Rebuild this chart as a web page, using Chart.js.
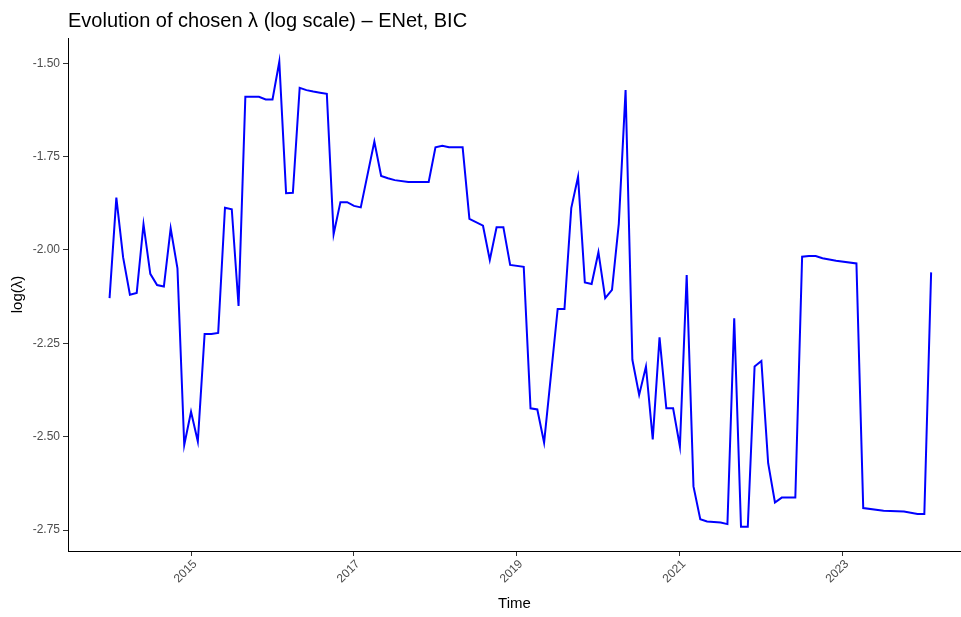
<!DOCTYPE html>
<html>
<head>
<meta charset="utf-8">
<title>Evolution of chosen λ – ENet, BIC</title>
<script src="https://cdn.jsdelivr.net/npm/chart.js@4.4.1/dist/chart.umd.min.js"></script>
<style>
  html, body { margin: 0; padding: 0; background: #ffffff; }
  #wrap { width: 961px; height: 617px; }
</style>
</head>
<body>
<div id="wrap"><canvas id="lambdaChart" width="961" height="617"></canvas></div>
<script>
// Chosen penalty per estimation month (log scale), turning points of the series
const months = [
  "2014-01","2014-02","2014-03","2014-04","2014-05","2014-06","2014-07","2014-08","2014-09","2014-10",
  "2014-11","2014-12","2015-01","2015-02","2015-03","2015-04","2015-05","2015-06","2015-07","2015-08",
  "2015-09","2015-10","2015-11","2015-12","2016-01","2016-02","2016-03","2016-04","2016-05","2016-06",
  "2016-07","2016-08","2016-09","2016-10","2016-11","2016-12","2017-01","2017-02","2017-04","2017-05",
  "2017-06","2017-07","2017-09","2017-12","2018-01","2018-02","2018-03","2018-05","2018-06","2018-08",
  "2018-09","2018-10","2018-11","2018-12","2019-02","2019-03","2019-04","2019-05","2019-07","2019-08",
  "2019-09","2019-10","2019-11","2019-12","2020-01","2020-02","2020-03","2020-04","2020-05","2020-06",
  "2020-07","2020-08","2020-09","2020-10","2020-11","2020-12","2021-01","2021-02","2021-03","2021-04",
  "2021-05","2021-07","2021-08","2021-09","2021-10","2021-11","2021-12","2022-01","2022-02","2022-03",
  "2022-04","2022-06","2022-07","2022-08","2022-09","2022-10","2022-12","2023-03","2023-04","2023-07",
  "2023-10","2023-12","2024-01","2024-02"
];
const logLambda = [
  -2.129,-1.860,-2.020,-2.120,-2.115,-1.931,-2.064,-2.094,-2.098,-1.942,
  -2.049,-2.522,-2.433,-2.513,-2.225,-2.225,-2.222,-1.887,-1.891,-2.150,
  -1.590,-1.590,-1.590,-1.597,-1.597,-1.496,-1.848,-1.847,-1.566,-1.572,
  -1.576,-1.579,-1.582,-1.958,-1.872,-1.872,-1.882,-1.886,-1.710,-1.802,
  -1.808,-1.813,-1.818,-1.818,-1.725,-1.721,-1.725,-1.725,-1.917,-1.935,
  -2.027,-1.939,-1.939,-2.040,-2.045,-2.424,-2.427,-2.516,-2.158,-2.158,
  -1.888,-1.804,-2.087,-2.091,-2.006,-2.129,-2.107,-1.930,-1.572,-2.294,
  -2.388,-2.312,-2.507,-2.234,-2.424,-2.424,-2.526,-2.067,-2.633,-2.721,
  -2.727,-2.730,-2.734,-2.183,-2.741,-2.741,-2.312,-2.297,-2.571,-2.676,
  -2.663,-2.663,-2.018,-2.016,-2.016,-2.022,-2.029,-2.036,-2.691,-2.698,
  -2.700,-2.707,-2.707,-2.060
];
const yearTicks = [2015, 2017, 2019, 2021, 2023];
const yTicks = [-2.75, -2.50, -2.25, -2.00, -1.75, -1.50];

const chartTitle = "Evolution of chosen λ (log scale) – ENet, BIC";
const xTitle = "Time";
const yTitle = "log(λ)";

// month string -> decimal year for the linear time axis
function toYear(s) {
  const [y, m] = s.split("-").map(Number);
  return y + (m - 1) / 12;
}
const points = months.map((m, i) => ({ x: toYear(m), y: logLambda[i] }));

const FONT = "'Liberation Sans', Arial, 'DejaVu Sans', sans-serif";
const TICK_COLOR = "#4d4d4d";

const titlePlugin = {
  id: "plotTitle",
  afterDraw(chart) {
    const ctx = chart.ctx;
    ctx.save();
    ctx.font = "20px " + FONT;
    ctx.fillStyle = "#000000";
    ctx.textAlign = "left";
    ctx.textBaseline = "alphabetic";
    ctx.fillText(chartTitle, chart.chartArea.left, 27);
    ctx.restore();
  }
};

new Chart(document.getElementById("lambdaChart"), {
  type: "line",
  data: {
    datasets: [{
      data: points,
      borderColor: "#0000ff",
      borderWidth: 2,
      pointRadius: 0,
      tension: 0,
      fill: false
    }]
  },
  options: {
    responsive: false,
    animation: false,
    layout: { padding: { top: 38, left: 0, right: 0, bottom: 0 } },
    plugins: {
      legend: { display: false },
      tooltip: { enabled: false },
      title: { display: false }
    },
    scales: {
      x: {
        type: "linear",
        min: 2013.49,
        max: 2024.45,
        afterBuildTicks(scale) { scale.ticks = yearTicks.map(v => ({ value: v })); },
        afterFit(scale) { scale.height = 66; },
        border: { display: true, color: "#000000", width: 1 },
        grid: { display: true, drawOnChartArea: false, drawTicks: true, tickLength: 5, color: "#333333" },
        ticks: {
          minRotation: 45,
          maxRotation: 45,
          padding: 1,
          labelOffset: 4,
          color: TICK_COLOR,
          font: { family: FONT, size: 12 },
          callback: v => String(v)
        },
        title: {
          display: true,
          text: xTitle,
          color: "#000000",
          font: { family: FONT, size: 15 },
          padding: { top: 0, bottom: 4 }
        }
      },
      y: {
        type: "linear",
        min: -2.806,
        max: -1.4325,
        afterBuildTicks(scale) { scale.ticks = yTicks.map(v => ({ value: v })); },
        afterFit(scale) { scale.width = 68; },
        border: { display: true, color: "#000000", width: 1 },
        grid: { display: true, drawOnChartArea: false, drawTicks: true, tickLength: 5, color: "#333333" },
        ticks: {
          padding: 3,
          color: TICK_COLOR,
          font: { family: FONT, size: 12 },
          callback: v => Number(v).toFixed(2)
        },
        title: {
          display: true,
          text: yTitle,
          color: "#000000",
          font: { family: FONT, size: 15 },
          padding: { top: 9, bottom: 0 }
        }
      }
    }
  },
  plugins: [titlePlugin]
});
</script>
</body>
</html>
